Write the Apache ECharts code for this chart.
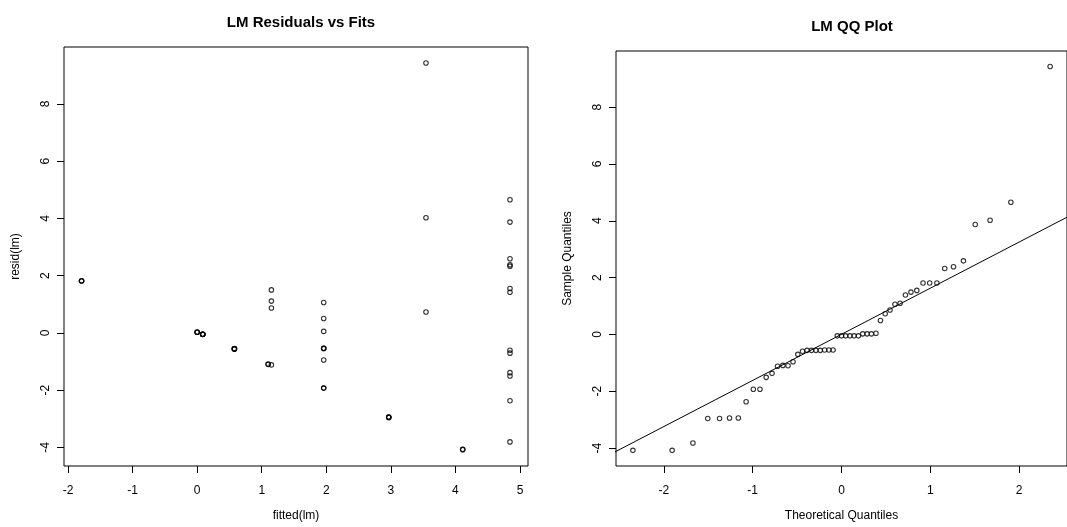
<!DOCTYPE html>
<html>
<head>
<meta charset="utf-8">
<script src="https://cdn.jsdelivr.net/npm/echarts@6/dist/echarts.min.js"></script>
<style>
  html, body { margin: 0; padding: 0; background: #fff; }
  #chart { width: 1067px; height: 527px; }
</style>
</head>
<body>
<div id="chart"></div>
<script>
// residuals vs fits (left panel)
const fittedLm = [
  4.113, 4.113, 4.845, 2.967, 2.967, 2.967, 2.967, 4.845, 1.96, 1.96,
  4.845, 4.845, 1.15, 1.10, 1.10, 1.96, 4.845, 4.845, 0.577, 0.577,
  0.577, 0.577, 1.96, 1.96, 1.96, 0.086, 0.086, 0.086, 0.086, 0.086,
  0.086, 0.00, 0.00, 0.00, 1.96, 1.96, 3.544, 1.15, 1.96, 1.15,
  4.845, 1.15, 4.845, -1.79, -1.79, -1.79, 4.845, 4.845, 4.845, 4.845,
  3.544, 4.845, 3.544
]
const residLm = [
  -4.08, -4.07, -3.81, -2.96, -2.96, -2.94, -2.94, -2.37, -1.93, -1.93,
  -1.51, -1.39, -1.12, -1.10, -1.09, -0.95, -0.71, -0.61, -0.56, -0.56,
  -0.56, -0.55, -0.55, -0.54, -0.54, -0.06, -0.06, -0.05, -0.05, -0.05,
  -0.05, 0.02, 0.02, 0.03, 0.05, 0.50, 0.73, 0.87, 1.06, 1.11,
  1.42, 1.50, 1.55, 1.81, 1.81, 1.82, 2.33, 2.38, 2.59, 3.87,
  4.02, 4.65, 9.43
]

// QQ plot (right panel)
const theoQuant = [
  -2.349, -1.907, -1.673, -1.506, -1.373, -1.261, -1.162, -1.074, -0.993, -0.918,
  -0.848, -0.782, -0.720, -0.660, -0.602, -0.546, -0.492, -0.439, -0.388, -0.337,
  -0.288, -0.239, -0.190, -0.142, -0.095, -0.047, 0.000, 0.047, 0.095, 0.142,
  0.190, 0.239, 0.288, 0.337, 0.388, 0.439, 0.492, 0.546, 0.602, 0.660,
  0.720, 0.782, 0.848, 0.918, 0.993, 1.074, 1.162, 1.261, 1.373, 1.506,
  1.673, 1.907, 2.349
]
const sampleQuant = [
  -4.08, -4.08, -3.82, -2.96, -2.96, -2.94, -2.94, -2.37, -1.93, -1.93,
  -1.51, -1.37, -1.12, -1.09, -1.10, -0.96, -0.70, -0.59, -0.56, -0.56,
  -0.56, -0.56, -0.55, -0.55, -0.55, -0.05, -0.05, -0.05, -0.05, -0.05,
  -0.05, 0.02, 0.02, 0.02, 0.04, 0.49, 0.73, 0.86, 1.06, 1.10,
  1.39, 1.49, 1.55, 1.81, 1.81, 1.81, 2.32, 2.38, 2.59, 3.87,
  4.02, 4.65, 9.43
]
const qqLineX = [-2.6, 2.6]
const qqLineY = [-4.215, 4.225]

// tick labels
const fitTicks = [-2, -1, 0, 1, 2, 3, 4, 5]
const residTicks = [-4, -2, 0, 2, 4, 6, 8]
const theoTicks = [-2, -1, 0, 1, 2]
const sampleTicks = [-4, -2, 0, 2, 4, 6, 8]

const FONT = '"Liberation Sans", Arial, Helvetica, sans-serif'

const pairs = (xs, ys) => xs.map((x, i) => [x, ys[i]])

const xAxisBase = ticks => ({
  type: 'value',
  splitLine: { show: false },
  axisLine: { show: false, onZero: false },
  axisTick: { show: true, inside: false, length: 7, customValues: ticks, lineStyle: { color: '#000', width: 1 } },
  axisLabel: { customValues: ticks, color: '#000', fontSize: 12, fontFamily: FONT, margin: 19 },
  nameLocation: 'middle',
  nameGap: 44,
  nameTextStyle: { color: '#000', fontSize: 12, fontFamily: FONT }
})

const yAxisBase = ticks => ({
  type: 'value',
  splitLine: { show: false },
  axisLine: { show: false, onZero: false },
  axisTick: { show: true, inside: false, length: 7, customValues: ticks, lineStyle: { color: '#000', width: 1 } },
  axisLabel: { customValues: ticks, color: '#000', fontSize: 12, fontFamily: FONT, rotate: 90, margin: 12 },
  nameLocation: 'middle',
  nameGap: 42,
  nameTextStyle: { color: '#000', fontSize: 12, fontFamily: FONT }
})

const pointStyle = {
  color: 'rgba(0,0,0,0)',
  borderColor: '#000',
  borderWidth: 1.1
}

const chart = echarts.init(document.getElementById('chart'), null, { renderer: 'canvas' })

chart.setOption({
  animation: false,
  backgroundColor: '#fff',
  title: [
    {
      text: 'LM Residuals vs Fits',
      left: 296, top: 10, textAlign: 'center',
      textStyle: { color: '#000', fontSize: 15, fontWeight: 'bold', fontFamily: FONT }
    },
    {
      text: 'LM QQ Plot',
      left: 847, top: 14, textAlign: 'center',
      textStyle: { color: '#000', fontSize: 15, fontWeight: 'bold', fontFamily: FONT }
    }
  ],
  grid: [
    { left: 64, top: 47, width: 464, height: 420, show: true, borderColor: '#000', borderWidth: 1, backgroundColor: 'transparent' },
    { left: 616, top: 51, width: 462, height: 416, show: true, borderColor: '#000', borderWidth: 1, backgroundColor: 'transparent' }
  ],
  xAxis: [
    { ...xAxisBase(fitTicks), gridIndex: 0, min: -2.062, max: 5.124, name: 'fitted(lm)' },
    { ...xAxisBase(theoTicks), gridIndex: 1, min: -2.539, max: 2.539, name: 'Theoretical Quantiles' }
  ],
  yAxis: [
    { ...yAxisBase(residTicks), gridIndex: 0, min: -4.652, max: 9.987, name: 'resid(lm)' },
    { ...yAxisBase(sampleTicks), gridIndex: 1, min: -4.63, max: 9.975, name: 'Sample Quantiles' }
  ],
  series: [
    {
      type: 'scatter',
      xAxisIndex: 0, yAxisIndex: 0,
      symbol: 'circle', symbolSize: 4.5,
      data: pairs(fittedLm, residLm),
      itemStyle: pointStyle,
      emphasis: { disabled: true }
    },
    {
      type: 'scatter',
      xAxisIndex: 1, yAxisIndex: 1,
      symbol: 'circle', symbolSize: 4.5,
      data: pairs(theoQuant, sampleQuant),
      itemStyle: pointStyle,
      emphasis: { disabled: true }
    },
    {
      type: 'line',
      xAxisIndex: 1, yAxisIndex: 1,
      data: pairs(qqLineX, qqLineY),
      showSymbol: false,
      symbol: 'none',
      clip: true,
      lineStyle: { color: '#000', width: 1 },
      emphasis: { disabled: true }
    }
  ]
})
</script>
</body>
</html>
